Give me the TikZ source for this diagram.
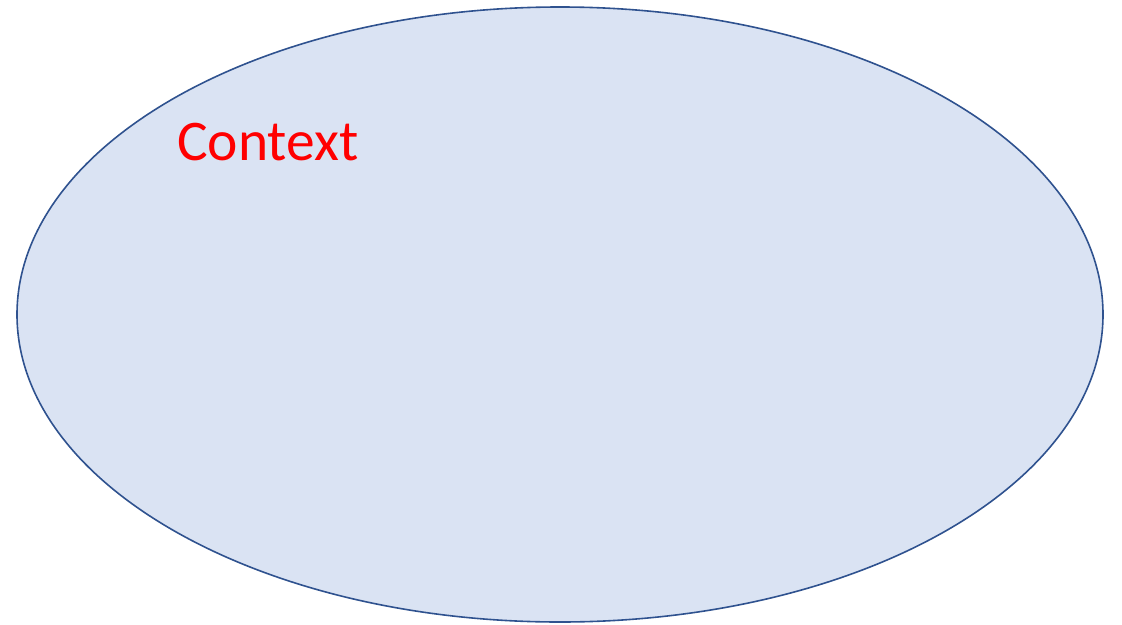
\documentclass[tikz,border=0pt]{standalone}
\usepackage{fontspec}
\setmainfont{Carlito}
\usetikzlibrary{positioning}
\definecolor{ctxfill}{HTML}{DAE3F3}
\definecolor{ctxline}{HTML}{2F528F}

\begin{document}
\begin{tikzpicture}[x=1pt,y=-1pt]
\useasboundingbox (0,0) rectangle (1122,624);
% the context ellipse
\draw [ctxline,line width=1.6pt,fill=ctxfill] (560,314.5) ellipse [x radius=543, y radius=307.5];
\node [anchor=base west,inner sep=0pt,red,font=\fontsize{57.5}{60}\selectfont] (ctx) at (177,160) {Context};
\end{tikzpicture}
\end{document}
